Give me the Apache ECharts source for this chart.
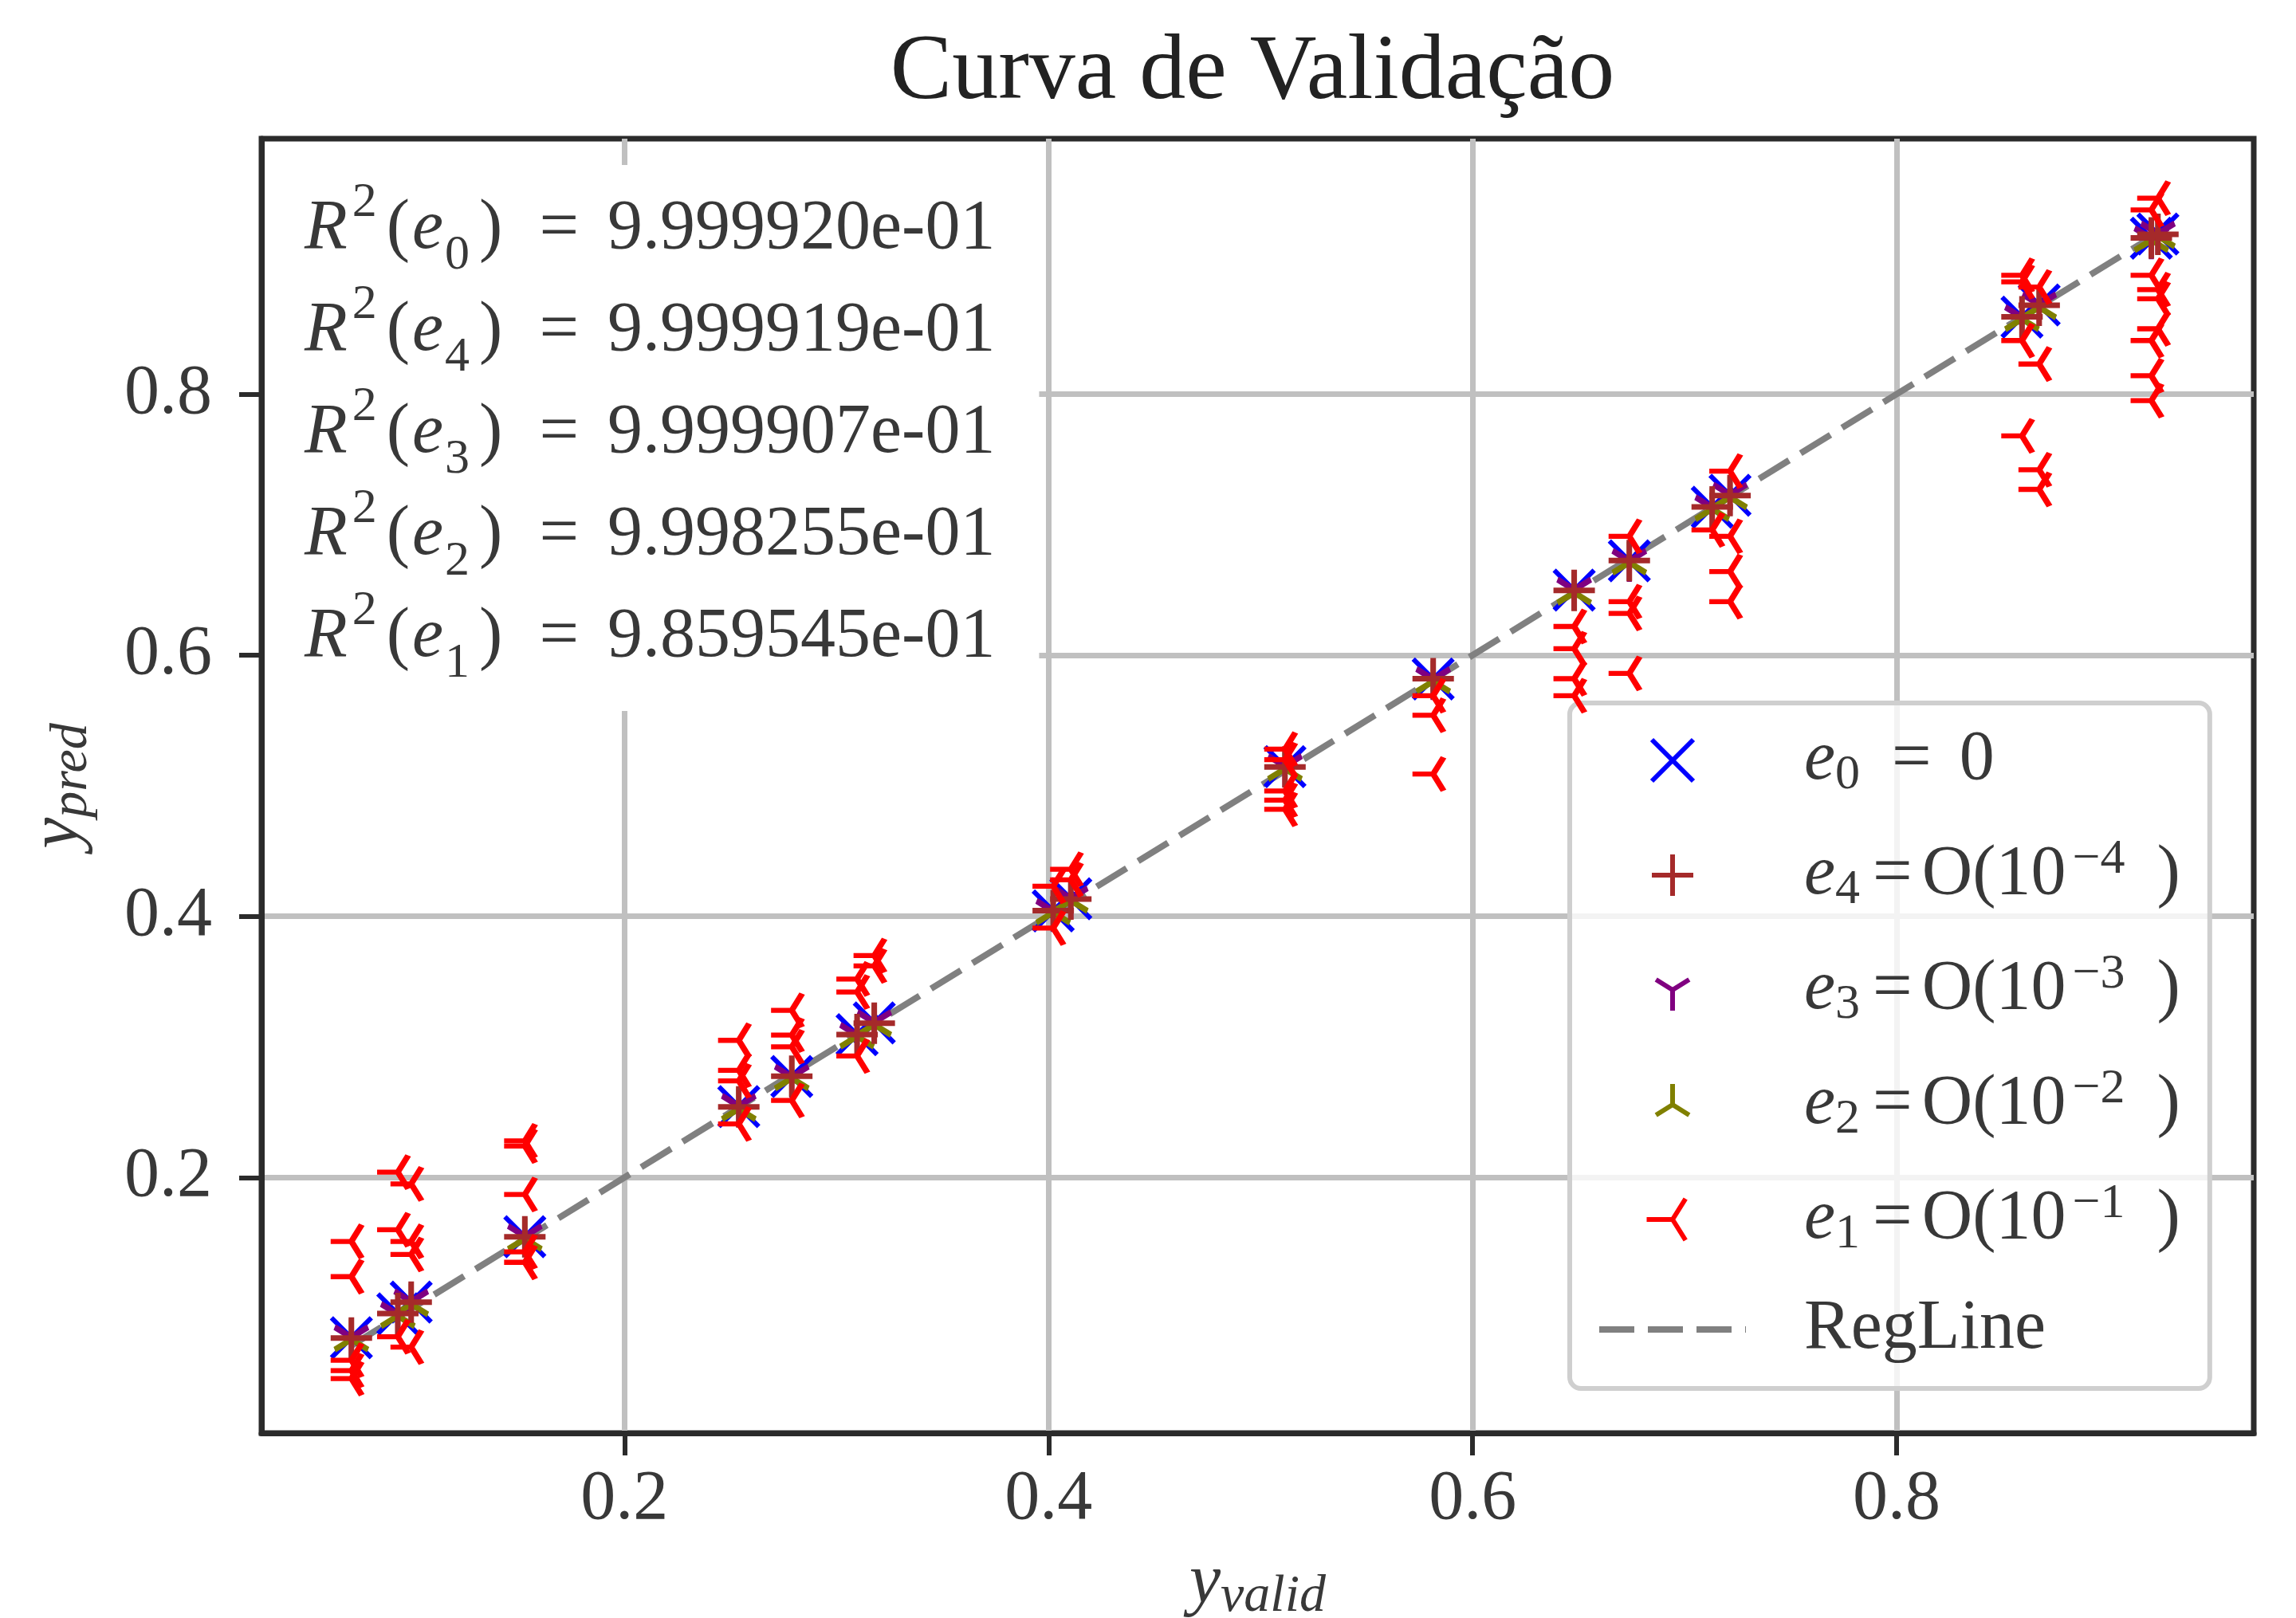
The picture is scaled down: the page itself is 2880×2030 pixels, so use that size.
<!DOCTYPE html>
<html><head><meta charset="utf-8">
<script src="https://cdn.jsdelivr.net/npm/echarts@6/dist/echarts.min.js"></script>
<style>html,body{margin:0;padding:0;background:#fff}#c{width:2880px;height:2030px}</style>
</head><body><div id="c"></div>
<script>
// ---- data ----
const yValid = [0.0712, 0.0931, 0.0994, 0.1530, 0.2539, 0.2789, 0.3097, 0.3178, 0.4022, 0.4105,
                0.5115, 0.5814, 0.6479, 0.6739, 0.7130, 0.7214, 0.8591, 0.8672, 0.9201, 0.9232];
const predE0 = [0.0772, 0.0955, 0.1046, 0.1546, 0.2543, 0.2773, 0.3093, 0.3184, 0.4042, 0.4134,
                0.5146, 0.5818, 0.6498, 0.6723, 0.7134, 0.7225, 0.8590, 0.8682, 0.9194, 0.9225];
const predE4 = [0.0770, 0.0957, 0.1044, 0.1545, 0.2541, 0.2775, 0.3095, 0.3182, 0.4044, 0.4132,
                0.5144, 0.5820, 0.6496, 0.6725, 0.7136, 0.7223, 0.8592, 0.8680, 0.9196, 0.9223];
const predE3 = [0.0774, 0.0952, 0.1049, 0.1549, 0.2546, 0.2770, 0.3090, 0.3187, 0.4039, 0.4137,
                0.5149, 0.5815, 0.6501, 0.6720, 0.7131, 0.7228, 0.8587, 0.8685, 0.9191, 0.9228];
const predE2 = [0.0760, 0.0940, 0.1030, 0.1530, 0.2525, 0.2760, 0.3080, 0.3170, 0.4030, 0.4120,
                0.5130, 0.5800, 0.6480, 0.6710, 0.7120, 0.7210, 0.8575, 0.8665, 0.9180, 0.9210];
const e1Valid = [0.0712, 0.0712, 0.0712, 0.0712, 0.0712,
                 0.0931, 0.0931, 0.0931,
                 0.0994, 0.0994, 0.0994, 0.0994,
                 0.1530, 0.1530, 0.1530, 0.1530, 0.1530,
                 0.2539, 0.2539, 0.2539, 0.2539,
                 0.2789, 0.2789, 0.2789, 0.2789,
                 0.3097, 0.3097, 0.3097,
                 0.3178, 0.3178,
                 0.4022, 0.4022,
                 0.4105, 0.4105,
                 0.5115, 0.5115, 0.5115, 0.5115, 0.5115,
                 0.5814, 0.5814, 0.5814,
                 0.6479, 0.6479, 0.6479, 0.6479,
                 0.6739, 0.6739, 0.6739, 0.6739,
                 0.7130,
                 0.7214, 0.7214, 0.7214, 0.7214,
                 0.8591, 0.8591, 0.8591, 0.8591,
                 0.8672, 0.8672, 0.8672, 0.8672,
                 0.9201, 0.9201, 0.9201, 0.9201, 0.9201,
                 0.9232, 0.9232, 0.9232, 0.9232];
const predE1 = [0.151, 0.124, 0.060, 0.052, 0.046,
                0.160, 0.204, 0.078,
                0.151, 0.141, 0.195, 0.070,
                0.228, 0.224, 0.187, 0.143, 0.135,
                0.305, 0.282, 0.274, 0.241,
                0.328, 0.309, 0.300, 0.259,
                0.352, 0.342, 0.293,
                0.370, 0.362,
                0.423, 0.391,
                0.436, 0.428,
                0.528, 0.520, 0.496, 0.489, 0.482,
                0.569, 0.554, 0.509,
                0.622, 0.605, 0.582, 0.569,
                0.691, 0.641, 0.632, 0.586,
                0.696,
                0.741, 0.691, 0.664, 0.641,
                0.891, 0.886, 0.841, 0.768,
                0.882, 0.823, 0.742, 0.727,
                0.941, 0.891, 0.841, 0.814, 0.795,
                0.950, 0.873, 0.850, 0.880];
const regLineX = [0.0712, 0.9232];
const regLineY = [0.0712, 0.9232];
const xTicks = [0.2, 0.4, 0.6, 0.8];
const yTicks = [0.2, 0.4, 0.6, 0.8];
const r2Subs = ['0', '4', '3', '2', '1'];
const r2Values = ['9.999920e-01', '9.999919e-01', '9.999907e-01', '9.998255e-01', '9.859545e-01'];
const seriesKeys = ['e0', 'e4', 'e3', 'e2', 'e1', 'RegLine'];
const legendTexts = {
  e0: '{i|e}{sb|0}{eqm|=}{m|0}',
  e4: '{i|e}{sb|4}{eq|=}{m|O(}{m|10}{sp|\u22124}{m|)}',
  e3: '{i|e}{sb|3}{eq|=}{m|O(}{m|10}{sp|\u22123}{m|)}',
  e2: '{i|e}{sb|2}{eq|=}{m|O(}{m|10}{sp|\u22122}{m|)}',
  e1: '{i|e}{sb|1}{eq|=}{m|O(}{m|10}{sp|\u22121}{m|)}',
  RegLine: '{m|RegLine}'
};

// ---- styling ----
const SERIF = 'Liberation Serif';
const TXT = '#383838';
const pts = (xs, ys) => xs.map((x, i) => [x, ys[i]]);
const SYM = {
  x: 'path://M-1,-1L1,1M-1,1L1,-1',
  plus: 'path://M-1,0L1,0M0,-1L0,1',
  triDown: 'path://M0,-1M0,0L0,1M0,0L-0.8,-0.5M0,0L0.8,-0.5',
  triUp: 'path://M0,1M0,0L0,-1M0,0L-0.8,0.5M0,0L0.8,0.5',
  triLeft: 'path://M1,0M0,0L-1,0M0,0L0.5,-0.8M0,0L0.5,0.8'
};
function scatter(name, data, symbol, size, color, z, bw) {
  return {
    type: 'scatter', name, data, symbol, symbolSize: size, z,
    itemStyle: { color: 'transparent', borderColor: color, borderWidth: bw, opacity: 1 },
    emphasis: { disabled: true }, silent: true
  };
}
const annText = r2Subs.map((s, i) =>
  `{R|R}{sp|2}{lp|(}{e|e}{sb|${s}}{rp|)}{eq|=}{n|${r2Values[i]}}`).join('\n');

const chart = echarts.init(document.getElementById('c'), null, { renderer: 'canvas' });
chart.setOption({
  animation: false,
  backgroundColor: '#fff',
  title: {
    text: 'Curva de Validação', left: 1571, top: 28, textAlign: 'center', padding: 0,
    textStyle: { fontFamily: SERIF, fontSize: 116, fontWeight: 'normal', color: '#222', lineHeight: 130 }
  },
  grid: {
    left: 328, right: 53, top: 174, bottom: 232, containLabel: false, outerBoundsMode: 'none',
    show: true, borderColor: '#2b2b2b', borderWidth: 7, backgroundColor: 'transparent'
  },
  xAxis: {
    type: 'value', min: 0.0288, max: 0.9684,
    axisLine: { show: true, onZero: false, lineStyle: { color: '#2b2b2b', width: 7 } },
    axisTick: { show: true, inside: false, length: 28, customValues: xTicks, lineStyle: { color: '#2b2b2b', width: 6 } },
    axisLabel: { show: true, customValues: xTicks, formatter: v => Number(v).toFixed(1), margin: 34,
      fontFamily: SERIF, fontSize: 88, color: TXT, lineHeight: 100 },
    splitLine: { show: true, lineStyle: { color: '#c0c0c0', width: 7 } },
    name: '{i|y}{s|valid}', nameLocation: 'middle', nameGap: 139,
    nameTextStyle: { fontFamily: SERIF, color: TXT, rich: {
      i: { fontFamily: SERIF, fontStyle: 'italic', fontSize: 88, lineHeight: 100, color: TXT },
      s: { fontFamily: SERIF, fontStyle: 'italic', fontSize: 66, lineHeight: 52, verticalAlign: 'bottom', color: TXT }
    } }
  },
  yAxis: {
    type: 'value', min: 0.0042, max: 0.9956,
    axisLine: { show: true, onZero: false, lineStyle: { color: '#2b2b2b', width: 7 } },
    axisTick: { show: true, inside: false, length: 28, customValues: yTicks, lineStyle: { color: '#2b2b2b', width: 6 } },
    axisLabel: { show: true, customValues: yTicks, formatter: v => Number(v).toFixed(1), margin: 62,
      fontFamily: SERIF, fontSize: 88, color: TXT, lineHeight: 100 },
    splitLine: { show: true, lineStyle: { color: '#c0c0c0', width: 7 } },
    name: '{i|y}{s|pred}', nameLocation: 'middle', nameGap: 204, nameRotate: 90,
    nameTextStyle: { fontFamily: SERIF, color: TXT, rich: {
      i: { fontFamily: SERIF, fontStyle: 'italic', fontSize: 88, lineHeight: 100, color: TXT },
      s: { fontFamily: SERIF, fontStyle: 'italic', fontSize: 66, lineHeight: 52, verticalAlign: 'bottom', color: TXT }
    } }
  },
  legend: {
    data: seriesKeys.map(k => k === 'RegLine'
      ? { name: k, itemStyle: { color: 'transparent', borderColor: 'transparent', borderWidth: 0 } }
      : { name: k }),
    orient: 'vertical', left: 1969, top: 882,
    padding: [28, 37, 30, 33], itemGap: 44, itemWidth: 184, itemHeight: 52,
    backgroundColor: 'rgba(255,255,255,0.8)', borderColor: '#cfcfcf', borderWidth: 6, borderRadius: 14,
    selectedMode: false, symbolKeepAspect: true,
    itemStyle: { borderWidth: 6 },
    lineStyle: { width: 8 },
    formatter: name => legendTexts[name],
    textStyle: {
      fontFamily: SERIF, fontSize: 88, color: TXT, padding: [0, 0, 0, 68],
      rich: {
        m: { fontFamily: SERIF, fontSize: 88, lineHeight: 100, color: TXT },
        i: { fontFamily: SERIF, fontStyle: 'italic', fontSize: 88, lineHeight: 100, color: TXT },
        sb: { fontFamily: SERIF, fontSize: 62, lineHeight: 52, verticalAlign: 'bottom', color: TXT },
        sp: { fontFamily: SERIF, fontSize: 62, lineHeight: 38, verticalAlign: 'top', color: TXT, padding: [0, 40, 0, 8] },
        eq: { fontFamily: SERIF, fontSize: 88, lineHeight: 100, color: TXT, padding: [0, 12, 0, 16] },
        eqm: { fontFamily: SERIF, fontSize: 88, lineHeight: 100, color: TXT, padding: [0, 35, 0, 40] }
      }
    }
  },
  graphic: [{
    type: 'text', left: 332, top: 207, z: 50, silent: true,
    style: {
      text: annText, backgroundColor: '#fff', padding: [17, 55, 28, 50],
      fill: TXT,
      rich: {
        R: { fontFamily: SERIF, fontStyle: 'italic', fontSize: 88, lineHeight: 128, padding: [0, 6, 0, 0], fill: TXT, color: TXT },
        sp: { fontFamily: SERIF, fontSize: 62, lineHeight: 66, verticalAlign: 'top', padding: [0, 12, 0, 0], fill: TXT, color: TXT },
        lp: { fontFamily: SERIF, fontSize: 88, lineHeight: 128, padding: [0, 3, 0, 0], fill: TXT, color: TXT },
        e: { fontFamily: SERIF, fontStyle: 'italic', fontSize: 88, lineHeight: 128, fill: TXT, color: TXT },
        sb: { fontFamily: SERIF, fontSize: 62, lineHeight: 80, verticalAlign: 'bottom', padding: [0, 12, 0, 2], fill: TXT, color: TXT },
        rp: { fontFamily: SERIF, fontSize: 88, lineHeight: 128, fill: TXT, color: TXT },
        eq: { fontFamily: SERIF, fontSize: 88, lineHeight: 128, padding: [0, 36, 0, 46], fill: TXT, color: TXT },
        n: { fontFamily: SERIF, fontSize: 88, lineHeight: 128, fill: TXT, color: TXT }
      }
    }
  }],
  series: [
    scatter('e0', pts(yValid, predE0), SYM.x, [50, 50], '#0000ff', 2, 6),
    scatter('e4', pts(yValid, predE4), SYM.plus, [52, 52], '#a52a2a', 5, 7),
    scatter('e3', pts(yValid, predE3), SYM.triDown, [42, 52], '#800080', 3, 7),
    scatter('e2', pts(yValid, predE2), SYM.triUp, [42, 52], '#808000', 4, 7),
    scatter('e1', pts(e1Valid, predE1), SYM.triLeft, [52, 42], '#ff0000', 6, 7),
    {
      type: 'line', name: 'RegLine', data: pts(regLineX, regLineY), z: 1,
      symbol: 'none', showSymbol: false, silent: true,
      lineStyle: { color: '#808080', width: 8, type: [44, 17] },
      itemStyle: { color: '#808080' },
      emphasis: { disabled: true }
    }
  ]
});
</script>
</body></html>
